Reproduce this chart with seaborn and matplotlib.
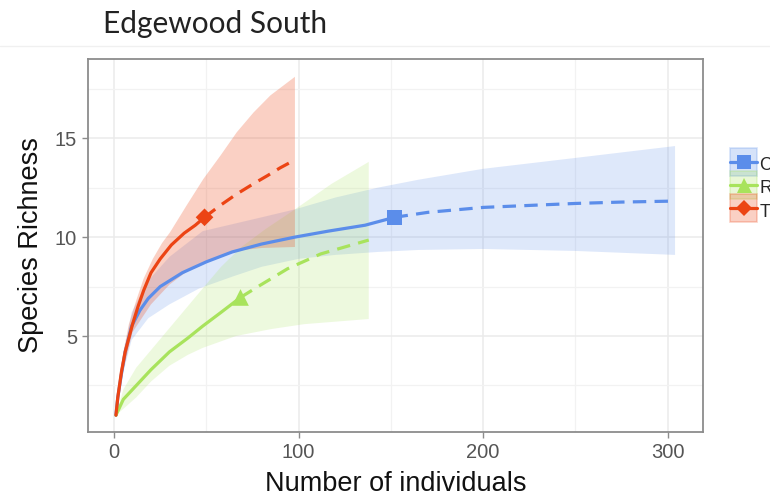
import numpy as np
import pandas as pd
import matplotlib
matplotlib.use("Agg")
import matplotlib.pyplot as plt
from matplotlib.lines import Line2D
from matplotlib.patches import Patch, Rectangle
from matplotlib.legend_handler import HandlerPatch
from matplotlib.ticker import MultipleLocator
import seaborn as sns

# ---------------- data ----------------
groups = ["Control", "Restored", "Thinned"]
colors = {"Control": "#5B8DEA", "Restored": "#A8E35C", "Thinned": "#EC4414"}
band_alpha = {"Control": 0.20, "Restored": 0.20, "Thinned": 0.25}
markers = {"Control": "s", "Restored": "^", "Thinned": "D"}
marker_sizes = {"Control": 11, "Restored": 12, "Thinned": 9}

# observed sample (end of interpolated curve)
obs_x = {"Control": 152, "Restored": 68.5, "Thinned": 49}
obs_y = {"Control": 11.0, "Restored": 6.95, "Thinned": 11.0}

# interpolated (solid) parts
interp_x = {
    "Control": [1, 2, 4, 6, 9.5, 14, 18.5, 25, 37, 50, 64, 80, 98, 116, 136, 152],
    "Restored": [1, 5, 12, 20, 30, 40, 48, 58, 68.5],
    "Thinned": [1, 2, 4, 6, 8, 10, 13, 16, 20, 25, 31, 38, 44, 49],
}
interp_y = {
    "Control": [1, 1.9, 3.1, 4.2, 5.5, 6.3, 6.9, 7.5, 8.2, 8.75, 9.25, 9.65, 10.0, 10.3, 10.6, 11.0],
    "Restored": [1, 1.8, 2.5, 3.3, 4.2, 4.9, 5.5, 6.2, 6.95],
    "Thinned": [1, 1.9, 3.2, 4.2, 4.9, 5.6, 6.5, 7.3, 8.2, 8.9, 9.6, 10.2, 10.6, 11.0],
}

# extrapolated (dashed) parts
extrap_x = {
    "Control": [152, 170, 200, 225, 250, 275, 304],
    "Restored": [68.5, 78, 94, 112, 125, 138],
    "Thinned": [49, 57.5, 66, 75.6, 83, 90, 98],
}
extrap_y = {
    "Control": [11.0, 11.25, 11.5, 11.6, 11.7, 11.77, 11.82],
    "Restored": [6.95, 7.5, 8.4, 9.15, 9.5, 9.85],
    "Thinned": [11.0, 11.6, 12.15, 12.7, 13.1, 13.5, 13.9],
}

# confidence bands
upper_x = {
    "Control": [1, 4, 9.5, 18.5, 30, 48, 64, 80, 98, 120, 143, 165, 200, 250, 304],
    "Restored": [1, 5, 12, 21, 30, 39, 48, 58, 69, 82, 98, 118, 138],
    "Thinned": [1, 3, 5, 8, 12, 16, 21, 26, 30.3, 39.3, 48.4, 57.5, 66.5, 75.6, 84.7, 98],
}
upper_y = {
    "Control": [1, 3.4, 6.2, 7.8, 9.0, 10.3, 10.65, 11.0, 11.4, 12.0, 12.5, 12.9, 13.45, 14.0, 14.6],
    "Restored": [1, 2.3, 3.4, 4.4, 5.4, 6.4, 7.4, 8.5, 9.5, 10.4, 11.4, 12.7, 13.8],
    "Thinned": [1, 3.0, 4.2, 5.6, 6.8, 7.9, 8.9, 9.7, 10.24, 11.6, 12.94, 14.1, 15.3, 16.3, 17.16, 18.1],
}
lower_x = {
    "Control": [1, 4, 9.5, 18.5, 30, 46, 64, 80, 100, 120, 143, 165, 200, 250, 304],
    "Restored": [1, 6, 12, 20, 30, 40, 48, 66, 85, 103, 138],
    "Thinned": [1, 4, 10, 20, 30, 40, 49, 60, 70, 80, 98],
}
lower_y = {
    "Control": [1, 2.8, 4.8, 5.9, 6.6, 7.4, 8.0, 8.5, 8.9, 9.1, 9.25, 9.35, 9.4, 9.3, 9.1],
    "Restored": [1, 1.4, 1.9, 2.7, 3.5, 4.05, 4.4, 5.0, 5.35, 5.6, 5.86],
    "Thinned": [1, 2.9, 5.2, 6.6, 7.6, 8.3, 8.7, 9.1, 9.35, 9.45, 9.5],
}

x_ticks = [0, 100, 200, 300]
y_ticks = [5, 10, 15]
title = "Edgewood South"
x_label = "Number of individuals"
y_label = "Species Richness"

# ---------------- build long-form table ----------------
rows = []
for g in groups:
    for x, y in zip(interp_x[g], interp_y[g]):
        rows.append({"x": x, "y": y, "group": g, "method": "interpolated"})
    for x, y in zip(extrap_x[g], extrap_y[g]):
        rows.append({"x": x, "y": y, "group": g, "method": "extrapolated"})
df = pd.DataFrame(rows)
obs_df = pd.DataFrame({"x": [obs_x[g] for g in groups],
                       "y": [obs_y[g] for g in groups],
                       "group": groups})

# ---------------- figure ----------------
sns.set_theme(style="whitegrid")
plt.rcParams["font.family"] = ["Liberation Sans", "DejaVu Sans"]

fig = plt.figure(figsize=(7.70, 4.99), dpi=100)
W, H = 770, 499
ax = fig.add_axes([88 / W, 1 - 432 / H, (703 - 88) / W, (432 - 59) / H])
ax.set_facecolor("white")

# bands
for g in groups:
    px = list(upper_x[g]) + list(lower_x[g])[::-1]
    py = list(upper_y[g]) + list(lower_y[g])[::-1]
    ax.fill(px, py, color=colors[g], alpha=band_alpha[g], lw=0, zorder=2)

# lines
sns.lineplot(data=df, x="x", y="y", hue="group", style="method",
             palette=colors, hue_order=groups,
             style_order=["interpolated", "extrapolated"],
             dashes={"interpolated": "", "extrapolated": (4.2, 2.6)},
             estimator=None, sort=False,
             linewidth=2.3, legend=False, ax=ax, zorder=3)

# observed points
for g in groups:
    sns.scatterplot(data=obs_df[obs_df["group"] == g], x="x", y="y",
                    color=colors[g], marker=markers[g],
                    s=marker_sizes[g] ** 2, edgecolor="none", legend=False,
                    ax=ax, zorder=4)

ax.set_xlim(-14.15, 319.15)
ax.set_ylim(0.15, 19.0)
ax.set_xticks(x_ticks)
ax.set_yticks(y_ticks)
ax.xaxis.set_minor_locator(MultipleLocator(50))
ax.yaxis.set_minor_locator(MultipleLocator(2.5))
ax.grid(which="major", color="#EBEBEB", lw=1.1)
ax.grid(which="minor", color="#F2F2F2", lw=0.9)
ax.set_axisbelow(True)
for s in ax.spines.values():
    s.set_visible(True)
    s.set_color("#8C8C8C")
    s.set_linewidth(1.3)
ax.tick_params(which="major", length=4, width=1.0, color="#8C8C8C",
               labelsize=14.5, labelcolor="#555555", pad=4, left=True, bottom=True)
ax.tick_params(which="minor", length=0)

ax.set_xlabel(x_label, fontsize=19.5, color="#111111", labelpad=6.5)
ax.set_ylabel(y_label, fontsize=19.5, color="#111111", labelpad=8)

# title + faint separator line
fig.text(103 / W, 1 - 33 / H, title, family=["Lato", "DejaVu Sans"],
         fontsize=21.5, color="#222222", va="baseline", ha="left")
fig.add_artist(Line2D([0, 1], [1 - 46 / H, 1 - 46 / H], color="#F0F0F0", lw=1.0,
                      transform=fig.transFigure))


# legend: key boxes fill the whole key area
def full_rect(legend, orig_handle, xdescent, ydescent, width, height, fontsize):
    return Rectangle((-xdescent, -ydescent), width, height + ydescent)


handles = []
for g in groups:
    patch = Patch(facecolor=colors[g], alpha=0.25, edgecolor=colors[g], lw=1.2)
    line = Line2D([], [], color=colors[g], lw=2.3, marker=markers[g],
                  markersize=marker_sizes[g] * 0.9, markeredgewidth=0)
    handles.append((patch, line))
fig.legend(handles, groups, loc="upper left",
           bbox_to_anchor=(730 / W, 1 - 153 / H), frameon=False,
           fontsize=13, handlelength=1.5, handleheight=1.55,
           handletextpad=0.12, labelspacing=0.03, borderpad=0,
           borderaxespad=0,
           handler_map={Patch: HandlerPatch(patch_func=full_rect)})

fig.savefig("out.png", dpi=100)
